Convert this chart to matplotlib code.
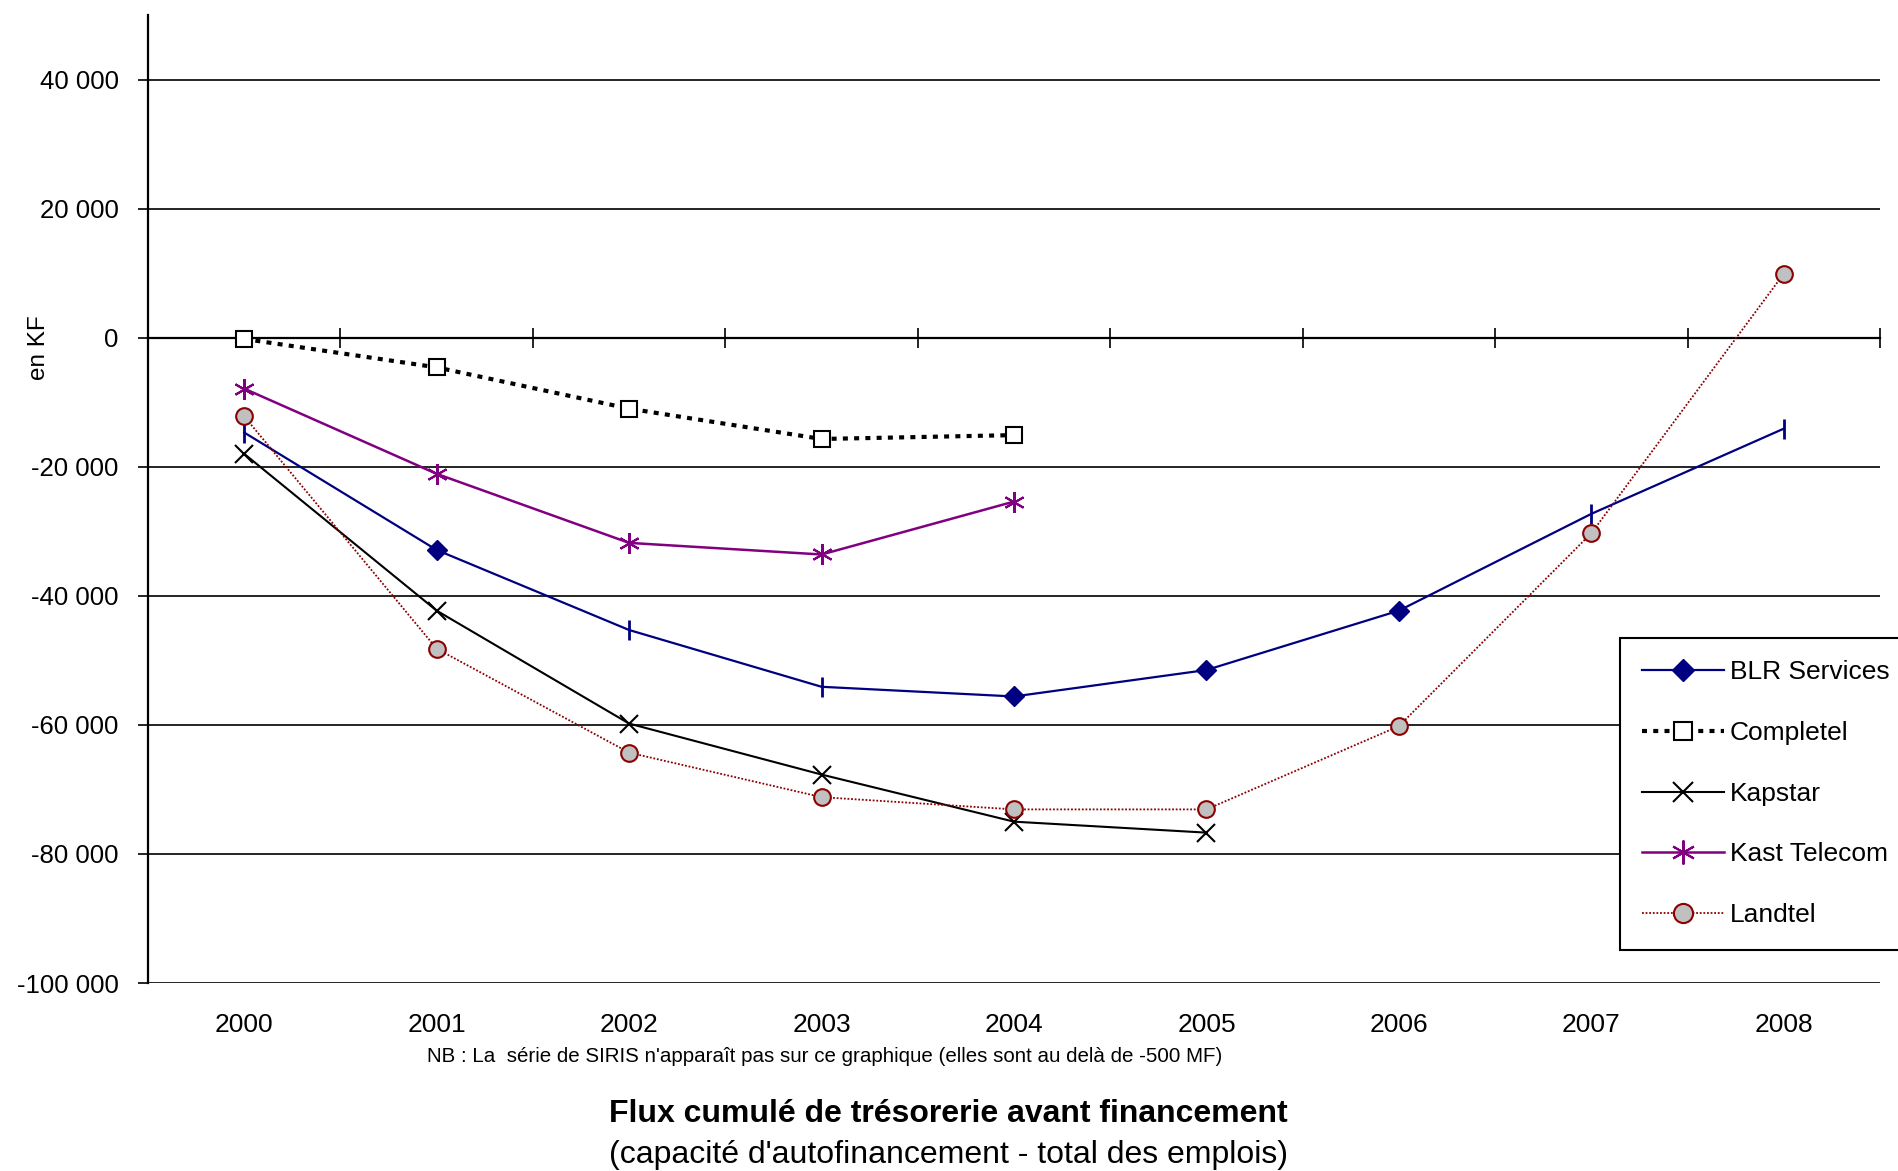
import matplotlib
matplotlib.use("Agg")
import matplotlib.pyplot as plt
import numpy as np

plt.rcParams['font.family'] = ['Liberation Sans', 'DejaVu Sans']

# data (KF)
years = ["2000", "2001", "2002", "2003", "2004", "2005", "2006", "2007", "2008"]
blr = [-14700, -32900, -45300, -54100, -55600, -51500, -42300, -27300, -14100]
completel = [-200, -4600, -11000, -15700, -15100]
kapstar = [-18000, -42300, -59800, -67700, -75000, -76700]
kast = [-7900, -21100, -31800, -33600, -25400]
landtel = [-12200, -48200, -64300, -71200, -73100, -73100, -60200, -30300, 9900]

y_ticks = [-100000, -80000, -60000, -40000, -20000, 0, 20000, 40000]
y_labels = ["-100 000", "-80 000", "-60 000", "-40 000", "-20 000", "0", "20 000", "40 000"]

fig = plt.figure(figsize=(18.99, 11.71), dpi=100)
ax = fig.add_axes([148 / 1899, 188 / 1171, (1880 - 148) / 1899, (1156 - 188) / 1171])

x = np.arange(len(years))

# BLR : diamonds on some points, bars on others
ax.plot(x, blr, color="#000080", lw=1.6, marker="D", markersize=10,
        markevery=[1, 4, 5, 6], label="BLR Services", zorder=4)
ax.plot(x, blr, color="#000080", lw=0, marker="|", markersize=15,
        markeredgewidth=2, markevery=[0, 2, 3, 7, 8], zorder=4)
ax.plot(x[:len(completel)], completel, color="black", lw=3, linestyle=(0, (1.2, 1.5)),
        marker="s", markersize=11, markerfacecolor="white", markeredgecolor="black",
        markeredgewidth=1.5, label="Completel", zorder=4)
ax.plot(x[:len(kapstar)], kapstar, color="black", lw=1.5, marker="x", markersize=13,
        markeredgewidth=1.5, label="Kapstar", zorder=4)
ax.plot(x[:len(kast)], kast, color="#800080", lw=1.8, marker=(6, 2, 0), markersize=15,
        markeredgewidth=1.5, label="Kast Telecom", zorder=4)
ax.plot(x, landtel, color="#8B0000", lw=1.3, linestyle=(0, (1, 1)),
        marker="o", markersize=12, markerfacecolor="#C0C0C0", markeredgecolor="#8B0000",
        markeredgewidth=1.5, label="Landtel", zorder=5)

ax.set_xlim(-0.5, len(years) - 0.5)
ax.set_ylim(-100000, 50000)

# y axis
ax.set_yticks(y_ticks)
ax.set_yticklabels(y_labels, fontsize=18.5)
ax.tick_params(axis="y", direction="out", length=7, width=1.2, pad=14)
ax.yaxis.grid(True, color="black", lw=1.2)
ax.set_axisbelow(True)

# category axis crosses at 0
for s in ["top", "right"]:
    ax.spines[s].set_visible(False)
ax.spines["left"].set_linewidth(1.6)
ax.spines["bottom"].set_position(("data", 0))
ax.spines["bottom"].set_linewidth(1.6)
ax.set_xticks(x)
ax.set_xticklabels([])
ax.tick_params(axis="x", which="major", length=0)
ax.set_xticks(np.arange(-0.5, len(years)), minor=True)
ax.tick_params(axis="x", which="minor", direction="inout", length=14, width=1.2)

for xi, lab in zip(x, years):
    ax.text(xi, -0.0434, lab, transform=ax.get_xaxis_transform(),
            ha="center", va="center", fontsize=19)

fig.text(39 / 1899, 1 - 348 / 1171, "en KF", rotation=90, ha="center", va="center", fontsize=17.5)

fig.text(825 / 1899, 1 - 1057 / 1171,
         "NB : La  série de SIRIS n'apparaît pas sur ce graphique (elles sont au delà de -500 MF)",
         ha="center", va="center", fontsize=14.8)
fig.text(0.4995, 1 - 1114 / 1171, "Flux cumulé de trésorerie avant financement",
         ha="center", va="center", fontsize=23, fontweight="bold")
fig.text(0.4995, 1 - 1155 / 1171, "(capacité d'autofinancement - total des emplois)",
         ha="center", va="center", fontsize=23)

leg = ax.legend(loc="upper left", bbox_to_anchor=(1620 / 1899, 1 - 638 / 1171),
                bbox_transform=fig.transFigure, fontsize=19, numpoints=1,
                handlelength=3.1, handletextpad=0.2, labelspacing=1.39,
                borderpad=0.85, borderaxespad=0, fancybox=False, framealpha=1,
                edgecolor="black", markerscale=1.15)
leg.get_frame().set_linewidth(1.5)

fig.savefig("out.png", dpi=100)
